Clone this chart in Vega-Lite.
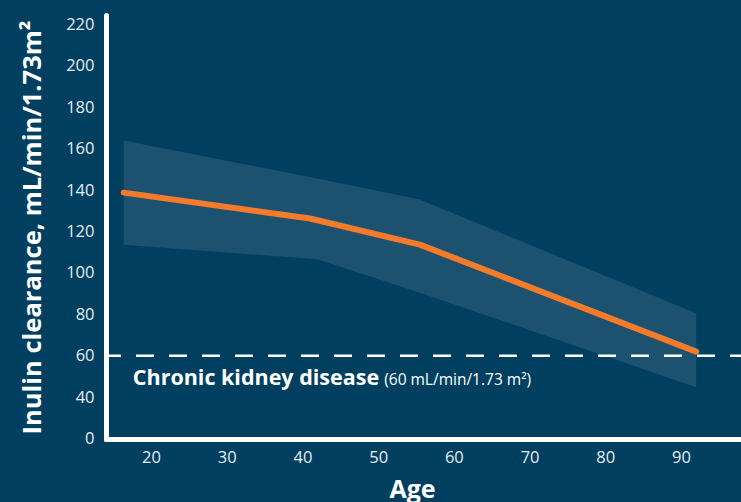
{
  "$schema": "https://vega.github.io/schema/vega-lite/v6.json",
  "autosize": {"type": "none"},
  "padding": {"left": 106, "top": 15, "right": 0, "bottom": 63},
  "width": 635,
  "height": 424,
  "background": "#003f5f",
  "config": {
    "view": {"stroke": null},
    "font": "Open Sans"
  },
  "datasets": {
    "band": [
      {"age": 16.4, "lo": 113.6, "hi": 164.0},
      {"age": 42.0, "lo": 106.6, "hi": 145.6},
      {"age": 55.5, "lo": 90.5, "hi": 135.5},
      {"age": 92.0, "lo": 44.8, "hi": 80.5}
    ],
    "line": [
      {"age": 16.4, "gfr": 138.8},
      {"age": 41.0, "gfr": 126.3},
      {"age": 55.5, "gfr": 113.7},
      {"age": 92.0, "gfr": 62.0}
    ],
    "ckd": [{"y": 60}],
    "labels": [
      {"age": 17.6, "v": 49, "text": "Chronic kidney disease", "kind": "main"},
      {"age": 50.8, "v": 49, "text": "(60 mL/min/1.73 m²)", "kind": "sub"}
    ]
  },
  "encoding": {
    "x": {
      "type": "quantitative",
      "scale": {"domain": [14.06, 97.92], "nice": false, "zero": false},
      "axis": {
        "title": "Age",
        "values": [20, 30, 40, 50, 60, 70, 80, 90],
        "ticks": false,
        "grid": false,
        "domainColor": "#ffffff",
        "domainWidth": 5,
        "domainCap": "round",
        "labelColor": "#e6edf2",
        "labelFontSize": 16.5,
        "labelPadding": 10,
        "labelFont": "Open Sans",
        "titleColor": "#ffffff",
        "titleFontSize": 25,
        "titleFontWeight": "bold",
        "titlePadding": 12,
        "titleX": 306,
        "titleFont": "Open Sans"
      }
    },
    "y": {
      "type": "quantitative",
      "scale": {"domain": [19.8, 224.6], "nice": false, "zero": false},
      "axis": {
        "title": "Inulin clearance, mL/min/1.73m²",
        "values": [20, 40, 60, 80, 100, 120, 140, 160, 180, 200, 220],
        "labelExpr": "datum.value == 20 ? '0' : datum.label",
        "ticks": false,
        "grid": false,
        "domainColor": "#ffffff",
        "domainWidth": 5,
        "domainCap": "round",
        "labelColor": "#e6edf2",
        "labelFontSize": 16.5,
        "labelPadding": 12,
        "labelFont": "Open Sans",
        "titleColor": "#ffffff",
        "titleFontSize": 25.5,
        "titleFontWeight": "bold",
        "titlePadding": 20,
        "titleFont": "Open Sans"
      }
    }
  },
  "layer": [
    {
      "data": {"name": "band"},
      "mark": {"type": "area", "color": "#1c5270", "opacity": 1},
      "encoding": {
        "x": {"field": "age", "type": "quantitative"},
        "y": {"field": "hi", "type": "quantitative"},
        "y2": {"field": "lo"}
      }
    },
    {
      "data": {"name": "ckd"},
      "mark": {"type": "rule", "color": "#ffffff", "strokeWidth": 2.7, "strokeDash": [18, 15], "strokeDashOffset": 7},
      "encoding": {
        "y": {"field": "y", "type": "quantitative"}
      }
    },
    {
      "data": {"name": "line"},
      "mark": {"type": "line", "color": "#f47b2a", "strokeWidth": 6, "strokeCap": "round", "strokeJoin": "round"},
      "encoding": {
        "x": {"field": "age", "type": "quantitative"},
        "y": {"field": "gfr", "type": "quantitative"}
      }
    },
    {
      "data": {"name": "labels"},
      "transform": [{"filter": "datum.kind == 'main'"}],
      "mark": {"type": "text", "align": "left", "baseline": "middle", "color": "#ffffff", "fontSize": 21.5, "fontWeight": "bold", "font": "Open Sans"},
      "encoding": {
        "x": {"field": "age", "type": "quantitative"},
        "y": {"field": "v", "type": "quantitative"},
        "text": {"field": "text"}
      }
    },
    {
      "data": {"name": "labels"},
      "transform": [{"filter": "datum.kind == 'sub'"}],
      "mark": {"type": "text", "align": "left", "baseline": "middle", "color": "#ffffff", "fontSize": 15.5, "font": "Open Sans", "dy": 1},
      "encoding": {
        "x": {"field": "age", "type": "quantitative"},
        "y": {"field": "v", "type": "quantitative"},
        "text": {"field": "text"}
      }
    }
  ]
}
